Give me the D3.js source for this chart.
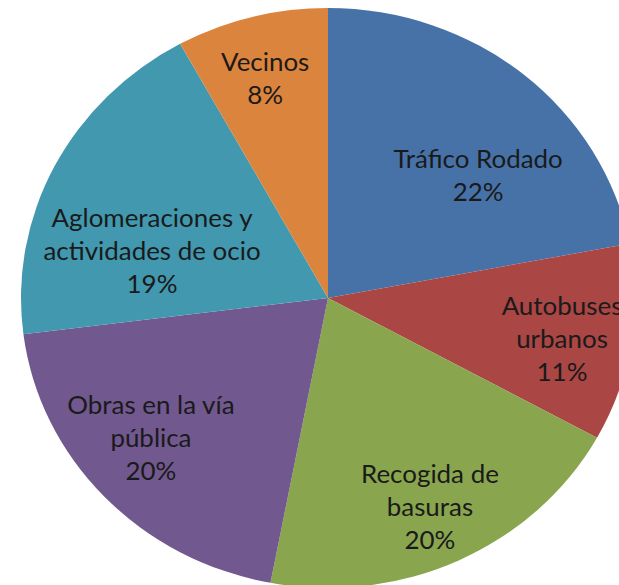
<!DOCTYPE html>
<html>
<head>
<meta charset="utf-8">
<script src="https://cdn.jsdelivr.net/npm/d3@7"></script>
<style>
    html, body { margin: 0; padding: 0; background: #fff; }
    svg { display: block; }
    .label { font-family: Lato, "Open Sans", sans-serif; font-size: 24.5px; font-weight: 400; fill: #1a1a1a; }
</style>
</head>
<body>
<svg id="chart" width="619" height="585"></svg>
<script>
// Data (clockwise from 12 o'clock)
const categories = ['Tráfico Rodado', 'Autobuses urbanos', 'Recogida de basuras',
    'Obras en la vía pública', 'Aglomeraciones y actividades de ocio', 'Vecinos'];
const values = [22, 11, 20, 20, 19, 8];
const labelLines = [
    ['Tráfico Rodado'],
    ['Autobuses', 'urbanos'],
    ['Recogida de', 'basuras'],
    ['Obras en la vía', 'pública'],
    ['Aglomeraciones y', 'actividades de ocio'],
    ['Vecinos']
];
const colors = ['#4672a8', '#aa4644', '#89a54e', '#71588f', '#4198af', '#db843d'];

// where each label sits inside its slice: share of the slice's sweep, share of the radius
const labelTurn = [0.625, 0.545, 0.508, 0.543, 0.332, 0.472];
const labelRadius = [0.643, 0.776, 0.797, 0.754, 0.595, 0.78];

const svg = d3.select('#chart');
const cx = 328, cy = 298;
const ry = 290, rx = 307;   // the picture is stretched a little sideways
const lineGap = 33;

const g = svg.append('g')
    .attr('transform', `translate(${cx},${cy}) scale(${rx / ry},1)`);

const pie = d3.pie().sort(null).value(d => d)(values);
const arc = d3.arc().innerRadius(0).outerRadius(ry);

g.selectAll('path.slice')
    .data(pie)
    .join('path')
    .attr('class', 'slice')
    .attr('d', arc)
    .attr('fill', (d, i) => colors[i]);

const total = d3.sum(values);

pie.forEach((d, i) => {
    const a = d.startAngle + (d.endAngle - d.startAngle) * labelTurn[i];
    const r = ry * labelRadius[i];
    const [x, y] = d3.arc().innerRadius(r).outerRadius(r).centroid({ startAngle: a, endAngle: a });
    const lines = labelLines[i].concat([Math.round(values[i] / total * 100) + '%']);
    const first = y - (lines.length - 1) * lineGap / 2 + 8;
    const t = g.append('text')
        .attr('class', 'label')
        .attr('text-anchor', 'middle');
    lines.forEach((s, j) => {
        t.append('tspan')
            .attr('x', x)
            .attr('y', first + j * lineGap)
            .text(s);
    });
});
</script>
</body>
</html>
